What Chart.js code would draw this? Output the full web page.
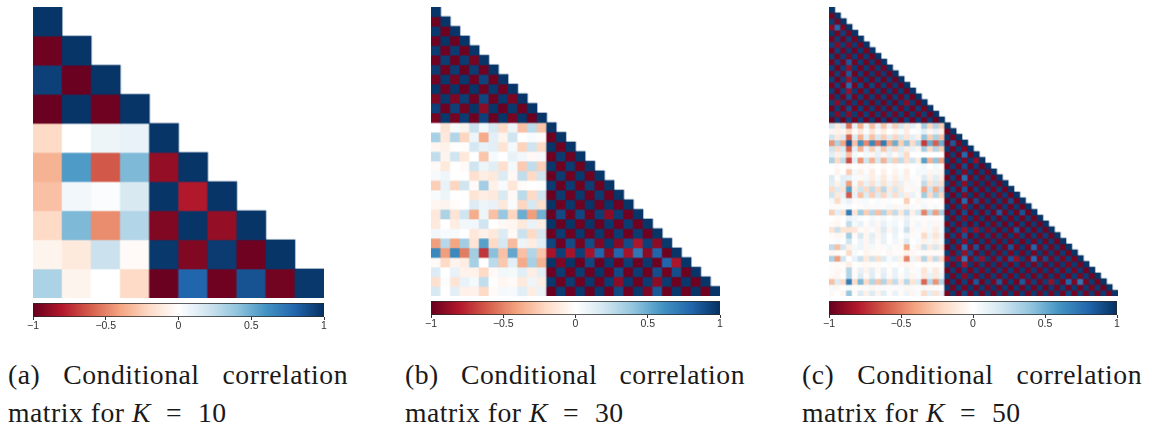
<!DOCTYPE html>
<html>
<head>
<meta charset="utf-8">
<title>Conditional correlation matrices</title>
<script src="https://cdn.jsdelivr.net/npm/chart.js@4"></script>
<style>
  html, body { margin: 0; padding: 0; background: #fff; width: 1152px; height: 427px; overflow: hidden; }
  canvas { position: absolute; }
  .caption { position: absolute; width: 340px; font-family: "Liberation Serif", serif; font-size: 27.7px; letter-spacing: 0.5px; line-height: 38px; color: #1a1a1a; }
  .caption .first { text-align: justify; text-align-last: justify; white-space: nowrap; }
  .caption i { font-style: italic; }
  .caption .eq { margin: 0 16px 0 15px; }
</style>
</head>
<body>
<canvas id="matrixA"></canvas>
<canvas id="barA"></canvas>
<canvas id="matrixB"></canvas>
<canvas id="barB"></canvas>
<canvas id="matrixC"></canvas>
<canvas id="barC"></canvas>
<div class="caption" style="left:8px;top:356px"><div class="first">(a) Conditional correlation</div><div>matrix for <i>K</i><span class="eq">=</span>10</div></div>
<div class="caption" style="left:405px;top:356px"><div class="first">(b) Conditional correlation</div><div>matrix for <i>K</i><span class="eq">=</span>30</div></div>
<div class="caption" style="left:802px;top:356px"><div class="first">(c) Conditional correlation</div><div>matrix for <i>K</i><span class="eq">=</span>50</div></div>
<script>
const colorTicks = [-1, -0.5, 0, 0.5, 1];
const colorStops = ['#67001F', '#B2182B', '#D6604D', '#F4A582', '#FDDBC7', '#FFFFFF', '#D1E5F0', '#92C5DE', '#4393C3', '#2166AC', '#053061'];

const rowsK10 = [
  [.98],
  [-.98, .98],
  [.94, -.99, .98],
  [-.99, .98, -.98, .98],
  [-.2, 0, .08, .1, .98],
  [-.35, .57, -.62, .45, -.88, .98],
  [-.3, .06, .02, .17, .98, -.8, .98],
  [-.2, .45, -.47, .3, -.93, .98, -.88, .98],
  [-.06, -.12, .22, -.03, .97, -.93, .96, -.98, .98],
  [.32, -.06, 0, -.2, -.99, .8, -.98, .87, -.97, .97]
];

const rowsK30 = [
  [.98],
  [-.98,.98],
  [.97,-.98,.98],
  [-.98,.98,-.98,.98],
  [.96,-.98,.96,-.98,.98],
  [-.98,.95,-.98,.96,-.96,.98],
  [.96,-.98,.96,-.99,.96,-.98,.98],
  [-.97,.97,-.96,.97,-.98,.93,-.98,.98],
  [.98,-.98,.98,-.99,.98,-.98,.97,-.98,.98],
  [-.94,.97,-.94,.95,-.98,.92,-.98,.97,-.95,.98],
  [.94,-.98,.94,-.97,.98,-.9,.98,-.99,.97,-.98,.98],
  [-.96,.97,-.96,.96,-.98,.94,-.99,.98,-.96,.98,-.99,.98],
  [0,-.15,.03,-.06,.22,.06,.18,-.2,.08,-.3,.27,-.28,.98],
  [.33,-.13,.3,-.22,.08,-.38,.12,-.06,.2,0,.03,-.02,-.98,.98],
  [-.05,-.08,-.01,-.01,.18,.1,.12,-.15,.05,-.23,.2,-.2,.98,-.98,.98],
  [.25,-.06,.2,-.13,0,-.28,.04,0,.1,.06,-.04,.05,-.98,.96,-.98,.98],
  [-.03,-.12,0,-.03,.2,.08,.13,-.17,.05,-.26,.25,-.24,.97,-.98,.96,-.98,.98],
  [.04,.07,0,0,-.17,-.1,-.12,.15,-.04,.25,-.2,.2,-.99,.96,-.98,.97,-.98,.98],
  [-.25,.1,-.22,.2,-.03,.35,-.08,.03,-.14,-.02,0,-.01,.96,-.99,.96,-.98,.95,-.98,.98],
  [.03,.08,0,.01,-.15,-.1,-.12,.16,-.04,.27,-.2,.2,-.99,.96,-.98,.97,-.98,.96,-.98,.98],
  [-.05,-.06,-.02,0,.15,.08,.1,-.13,.03,-.22,.18,-.18,.98,-.98,.97,-.98,.98,-.98,.98,-.98,.98],
  [-.13,.32,-.15,.2,-.37,.08,-.3,.38,-.22,.5,-.42,.48,-.99,.91,-.98,.92,-.98,.95,-.9,.96,-.98,.98],
  [-.12,0,-.1,.06,.06,.2,0,-.04,-.05,-.12,.1,-.1,.98,-.99,.98,-.98,.98,-.99,.97,-.98,.96,-.98,.98],
  [.06,.03,.04,0,-.13,-.08,-.13,.15,-.04,.22,-.2,.18,-.98,.96,-.98,.97,-.98,.97,-.98,.96,-.98,.96,-.98,.98],
  [-.42,.28,-.4,.35,-.15,.55,-.2,.18,-.32,.08,-.1,.12,.92,-.98,.9,-.96,.9,-.94,.97,-.92,.9,-.82,.94,-.9,.97],
  [.65,-.42,.65,-.52,.35,-.72,.42,-.3,.52,-.3,.3,-.28,-.83,.94,-.83,.94,-.83,.8,-.92,.8,-.83,.72,-.9,.8,-.98,.98],
  [-.03,-.2,-.06,-.1,.33,0,.27,-.27,.12,-.38,.33,-.35,.98,-.94,.98,-.99,.92,-.99,.97,-.98,.95,-.98,.97,-.98,.8,-.82,.98],
  [.15,0,.1,-.07,-.07,-.2,-.03,.06,.05,.13,-.1,.12,-.98,.96,-.98,.96,-.98,.98,-.98,.91,-.98,.96,-.98,.89,-.97,.89,-.98,.98],
  [-.17,.02,-.15,.1,.05,.25,.01,-.05,-.03,-.12,.08,-.1,.97,-.98,.96,-.98,.97,-.98,.96,-.9,.97,-.98,.96,-.9,.96,-.98,.97,-.98,.98],
  [.17,0,.12,-.08,-.07,-.2,-.03,.05,.04,.13,-.1,.1,-.99,.96,-.98,.97,-.99,.97,-.98,.91,-.98,.97,-.94,.85,-.98,.97,-.98,.98,-.98,.98]
];

const rowsK50 = [
  [.98],
  [-.96,.98],
  [.95,-.96,.98],
  [-.9,.78,-.95,.98],
  [.97,-.96,.94,-.96,.98],
  [-.96,.95,-.97,.94,-.96,.98],
  [.94,-.92,.95,-.94,.96,-.96,.98],
  [-.97,.94,-.96,.96,-.97,.96,-.96,.98],
  [.95,-.96,.95,-.95,.95,-.96,.96,-.96,.98],
  [-.96,.94,-.96,.85,-.96,.95,-.97,.96,-.97,.98],
  [.95,-.97,.95,-.88,.96,-.97,.96,-.96,.96,-.96,.98],
  [-.96,.94,-.95,.85,-.97,.95,-.97,.96,-.96,.96,-.97,.98],
  [.94,-.97,.95,-.87,.95,-.96,.96,-.97,.95,-.97,.96,-.97,.98],
  [-.96,.94,-.96,.78,-.96,.92,-.97,.93,-.97,.95,-.96,.96,-.97,.98],
  [.95,-.97,.94,-.87,.96,-.96,.95,-.96,.96,-.97,.96,-.97,.96,-.97,.98],
  [-.95,.96,-.96,.9,-.96,.95,-.96,.95,-.96,.95,-.97,.95,-.96,.95,-.97,.98],
  [.94,-.9,.95,-.95,.95,-.96,.96,-.97,.96,-.97,.96,-.98,.96,-.9,.96,-.97,.98],
  [-.97,.95,-.96,.91,-.96,.94,-.96,.95,-.96,.96,-.97,.94,-.96,.96,-.97,.95,-.96,.98],
  [.96,-.92,.95,-.91,.95,-.96,.94,-.96,.95,-.96,.95,-.96,.95,-.97,.96,-.96,.95,-.98,.98],
  [-.98,.96,-.98,.94,-.97,.95,-.97,.96,-.98,.96,-.98,.95,-.97,.94,-.98,.95,-.97,.96,-.98,.98],
  [.2,-.12,.15,-.55,.12,-.35,.08,-.3,.1,-.28,.1,-.25,.18,-.12,.12,-.05,.35,-.22,.3,-.25,.98],
  [-.05,-.07,-.05,-.2,-.03,-.12,.02,-.15,.03,-.1,0,-.06,.03,-.1,0,.02,.12,-.05,.1,-.08,-.97,.98],
  [.2,-.13,.15,-.6,.15,-.35,.12,-.3,.18,-.25,.15,-.22,.18,-.15,.12,-.08,.4,-.25,.32,-.3,.97,-.96,.98],
  [-.45,.32,-.4,.85,-.3,.6,-.48,.65,-.55,.7,-.4,.5,-.25,.4,-.2,.3,-.7,.5,-.6,.5,-.96,.85,-.96,.98],
  [.2,-.2,.17,-.6,.12,-.35,.1,-.25,.1,-.28,.15,-.2,.15,-.1,.1,-.05,.35,-.2,.3,-.25,.96,-.96,.96,-.94,.98],
  [.12,-.08,.1,-.3,.05,0,.05,-.05,.1,-.05,.1,-.03,.1,-.2,0,0,0,0,0,0,-.96,.95,-.97,.78,-.96,.98],
  [.32,-.2,.25,-.65,.12,-.45,.2,-.35,.18,-.35,.2,-.25,.25,-.18,.2,-.1,.55,-.35,.4,-.4,.97,-.96,.95,-.94,.96,-.88,.98],
  [0,-.03,0,-.05,0,-.03,-.02,-.03,0,-.03,0,-.03,0,-.03,0,.02,.06,0,.05,-.02,-.96,.96,-.96,.9,-.97,.96,-.97,.98],
  [0,-.06,0,-.25,.05,-.08,.02,-.1,0,-.08,0,-.06,.02,-.1,0,.05,.05,-.05,.05,-.06,.96,-.97,.95,-.92,.96,-.97,.96,-.97,.98],
  [.15,-.02,.12,.1,.03,-.03,.05,-.1,.04,-.12,.03,-.1,.05,-.08,.02,-.03,.15,-.08,.13,-.1,-.97,.95,-.97,.76,-.96,.95,-.96,.96,-.97,.98],
  [.13,-.08,.12,-.42,.05,-.2,.1,-.16,.08,-.15,.08,-.14,.1,-.05,.05,-.02,.25,-.15,.17,-.18,.96,-.96,.95,-.9,.96,-.96,.97,-.97,.96,-.97,.98],
  [-.2,.15,-.15,.55,-.1,.2,-.2,.25,-.2,.28,-.12,.18,-.12,.03,-.05,.05,-.38,.2,-.35,.25,-.97,.94,-.96,.87,-.97,.95,-.97,.96,-.96,.95,-.97,.98],
  [.2,-.12,.1,-.62,.1,-.3,.15,-.25,.15,-.22,.1,-.18,.12,-.1,.1,-.03,.35,-.2,.3,-.22,.96,-.97,.95,-.92,.96,-.96,.96,-.97,.96,-.96,.96,-.97,.98],
  [.05,-.2,.05,.1,-.03,.03,.04,0,.03,-.02,.02,0,0,-.25,0,-.05,.03,-.02,0,-.03,-.97,.95,-.96,.78,-.97,.9,-.96,.96,-.97,.95,-.96,.9,-.97,.98],
  [.02,-.03,.02,.03,0,-.02,.03,-.03,.03,-.02,.05,-.05,.04,-.06,.03,-.02,.06,-.02,.05,-.02,.96,-.96,.96,-.91,.96,-.97,.96,-.96,.96,-.97,.96,-.97,.96,-.97,.98],
  [-.25,.12,-.15,.7,-.15,.35,-.25,.28,-.3,.3,-.2,.25,-.12,.25,-.08,.18,-.5,.28,-.42,.32,-.97,.95,-.97,.9,-.97,.95,-.97,.94,-.97,.85,-.96,.95,-.97,.87,-.98,.98],
  [0,-.03,0,.1,.06,.02,0,.05,.02,.05,0,.04,-.03,.1,-.03,.02,-.03,.03,-.02,.02,.96,-.96,.95,-.92,.96,-.95,.96,-.97,.96,-.97,.96,-.96,.96,-.97,.95,-.97,.98],
  [-.03,-.05,0,.25,.05,.1,-.02,.08,-.05,.1,.03,.06,0,.12,-.02,.06,-.03,.05,-.05,.05,-.96,.95,-.96,.94,-.97,.95,-.98,.96,-.96,.95,-.98,.96,-.97,.95,-.98,.96,-.97,.98],
  [-.15,.22,-.15,-.15,-.14,-.03,-.05,.02,-.06,.15,-.05,.1,.02,.22,-.05,.03,-.05,.05,-.1,.05,.95,-.97,.94,-.87,.94,-.88,.96,-.94,.95,-.97,.96,-.96,.87,-.97,.95,-.97,.96,-.97,.98],
  [-.02,-.05,-.03,.35,-.03,.18,-.05,.12,-.05,.1,0,.08,0,.06,-.03,.02,-.2,.08,-.15,.08,-.96,.94,-.95,.87,-.97,.96,-.96,.95,-.96,.95,-.96,.96,-.95,.95,-.97,.95,-.96,.95,-.97,.98],
  [.01,.03,.01,.2,0,.08,-.05,.1,-.03,.1,0,.06,-.03,.15,0,.03,-.08,.05,-.08,.05,.96,-.96,.95,-.9,.96,-.96,.96,-.96,.96,-.96,.96,-.96,.96,-.97,.96,-.96,.96,-.97,.96,-.97,.98],
  [.25,-.3,.18,-.08,.05,.08,-.05,.05,-.02,-.03,.05,-.02,-.03,-.4,.03,-.08,.22,-.12,.17,-.12,-.97,.96,-.94,.78,-.95,.87,-.97,.94,-.97,.96,-.96,.87,-.95,.96,-.96,.8,-.95,.94,-.96,.96,-.97,.98],
  [-.04,-.03,0,-.2,.04,0,-.06,-.03,-.03,0,-.05,-.02,-.03,-.08,-.04,.02,-.03,-.03,-.02,-.03,.96,-.95,.94,-.87,.91,-.96,.96,-.96,.96,-.96,.95,-.95,.96,-.96,.96,-.95,.96,-.96,.96,-.96,.96,-.97,.98],
  [.32,-.42,.2,0,.1,.22,-.12,.2,-.18,.15,.03,.1,-.08,-.5,.08,-.12,.3,-.15,.25,-.18,-.88,.94,-.9,.72,-.94,.92,-.87,.95,-.95,.92,-.95,.87,-.87,.95,-.95,.78,-.95,.9,-.95,.94,-.95,.95,-.96,.98],
  [-.02,-.02,-.02,-.1,0,-.02,-.04,-.02,-.02,0,-.02,0,-.03,-.05,-.03,0,-.02,-.02,-.02,-.02,.96,-.96,.96,-.85,.96,-.96,.95,-.96,.96,-.96,.96,-.96,.95,-.96,.96,-.96,.95,-.96,.96,-.96,.96,-.95,.96,-.96,.98],
  [-.02,-.04,-.03,.3,-.03,.1,-.06,.12,-.04,.1,-.02,.1,0,.08,-.03,.03,-.15,.05,-.12,.05,-.96,.95,-.96,.94,-.96,.95,-.95,.96,-.96,.95,-.96,.95,-.96,.96,-.96,.95,-.96,.96,-.96,.95,-.96,.95,-.95,.96,-.97,.98],
  [-.03,-.05,0,.3,-.02,.15,-.03,.14,-.02,.13,-.03,.1,-.02,.08,-.05,.03,-.12,.1,-.12,.08,.96,-.96,.96,-.92,.96,-.95,.96,-.96,.95,-.96,.96,-.96,.96,-.95,.96,-.96,.95,-.96,.96,-.96,.96,-.96,.95,-.95,.96,-.97,.98],
  [-.3,.15,-.2,.7,-.2,.45,-.2,.3,-.28,.3,-.2,.25,-.1,.28,-.15,.15,-.58,.28,-.45,.3,-.96,.96,-.97,.94,-.97,.85,-.97,.95,-.95,.85,-.96,.95,-.97,.85,-.95,.94,-.96,.95,-.87,.95,-.96,.8,-.94,.72,-.95,.96,-.97,.98],
  [.04,-.05,.01,.05,.02,-.03,.03,-.05,.03,-.03,.02,-.02,.03,-.05,.04,-.02,.05,-.04,.03,-.03,.97,-.96,.96,-.95,.97,-.96,.96,-.95,.97,-.96,.96,-.97,.96,-.96,.96,-.96,.96,-.97,.96,-.96,.95,-.97,.96,-.96,.96,-.95,.96,-.97,.98],
  [-.03,0,-.05,.38,-.03,.15,-.08,.15,-.06,.13,-.03,.1,-.03,.08,-.05,.03,-.2,.12,-.15,.1,-.96,.96,-.97,.91,-.96,.95,-.96,.95,-.96,.95,-.96,.96,-.96,.96,-.96,.96,-.96,.96,-.96,.96,-.96,.92,-.96,.94,-.96,.96,-.96,.96,-.96,.98]
];

function hexToRgb(hex) {
  return [1, 3, 5].map((i) => parseInt(hex.slice(i, i + 2), 16));
}

function valueColor(v) {
  const pos = (v + 1) / 2 * (colorStops.length - 1);
  const lo = Math.min(Math.floor(pos), colorStops.length - 2);
  const t = pos - lo;
  const a = hexToRgb(colorStops[lo]);
  const b = hexToRgb(colorStops[lo + 1]);
  return `rgb(${a.map((c, i) => Math.round(c + (b[i] - c) * t)).join(',')})`;
}

// one floating bar per cell, one dataset per row; the device ratio makes a cell a whole number of pixels
function drawMatrix(id, rows, box, cellPx) {
  const canvas = document.getElementById(id);
  const k = rows.length;
  canvas.style.left = box.left + 'px';
  canvas.style.top = box.top + 'px';
  canvas.style.width = box.size + 'px';
  canvas.style.height = box.size + 'px';
  const labels = rows.map((_, i) => String(i + 1));
  const datasets = rows.map((row, i) => ({
    data: labels.map((_, c) => (c < row.length ? [i, i + 1] : null)),
    backgroundColor: labels.map((_, c) => (c < row.length ? valueColor(row[c]) : 'transparent')),
    borderWidth: 0,
    grouped: false,
    barPercentage: 1,
    categoryPercentage: 1
  }));
  return new Chart(canvas, {
    type: 'bar',
    data: { labels, datasets },
    options: {
      responsive: false,
      animation: false,
      devicePixelRatio: k * cellPx / box.size,
      layout: { padding: 0 },
      plugins: { legend: { display: false }, tooltip: { enabled: false } },
      scales: {
        x: { display: false, offset: true },
        y: { display: false, min: 0, max: k, reverse: true }
      }
    }
  });
}

function drawColorbar(id, box) {
  const canvas = document.getElementById(id);
  const pad = 20;
  canvas.style.left = (box.left - pad) + 'px';
  canvas.style.top = box.top + 'px';
  canvas.style.width = (box.width + pad * 2) + 'px';
  canvas.style.height = '28px';
  return new Chart(canvas, {
    type: 'bar',
    data: {
      labels: ['colors'],
      datasets: [{
        data: [[colorTicks[0], colorTicks[colorTicks.length - 1]]],
        backgroundColor: (ctx) => {
          const area = ctx.chart.chartArea;
          if (!area) return colorStops[0];
          const grad = ctx.chart.ctx.createLinearGradient(area.left, 0, area.right, 0);
          colorStops.forEach((c, i) => grad.addColorStop(i / (colorStops.length - 1), c));
          return grad;
        },
        borderColor: '#2a2a2a',
        borderWidth: 1,
        barPercentage: 1,
        categoryPercentage: 1
      }]
    },
    options: {
      indexAxis: 'y',
      responsive: false,
      animation: false,
      layout: { padding: { left: pad, right: pad, top: 0, bottom: 0 } },
      plugins: { legend: { display: false }, tooltip: { enabled: false } },
      scales: {
        y: { display: false },
        x: {
          min: colorTicks[0],
          max: colorTicks[colorTicks.length - 1],
          afterBuildTicks: (axis) => { axis.ticks = colorTicks.map((value) => ({ value })); },
          border: { display: false },
          grid: { drawOnChartArea: false, tickLength: 3, tickColor: '#333' },
          ticks: {
            maxRotation: 0,
            padding: 0,
            color: '#333',
            font: { family: '"Liberation Sans", Arial, sans-serif', size: 10.5 },
            callback: (v) => String(v).replace('-', '\u2212')
          }
        }
      }
    }
  });
}

function sizeCanvas(id, w, h) {
  const canvas = document.getElementById(id);
  canvas.width = w;
  canvas.height = h;
}

sizeCanvas('matrixA', 291, 291);
sizeCanvas('matrixB', 289, 289);
sizeCanvas('matrixC', 289, 289);
sizeCanvas('barA', 331, 28);
sizeCanvas('barB', 329, 28);
sizeCanvas('barC', 328, 28);

drawMatrix('matrixA', rowsK10, { left: 33, top: 7, size: 291 }, 30);
drawMatrix('matrixB', rowsK30, { left: 431, top: 7, size: 289 }, 10);
drawMatrix('matrixC', rowsK50, { left: 829, top: 7, size: 289 }, 6);
drawColorbar('barA', { left: 33, top: 303, width: 291 });
drawColorbar('barB', { left: 431, top: 301, width: 289 });
drawColorbar('barC', { left: 829, top: 301, width: 288 });
</script>
</body>
</html>
